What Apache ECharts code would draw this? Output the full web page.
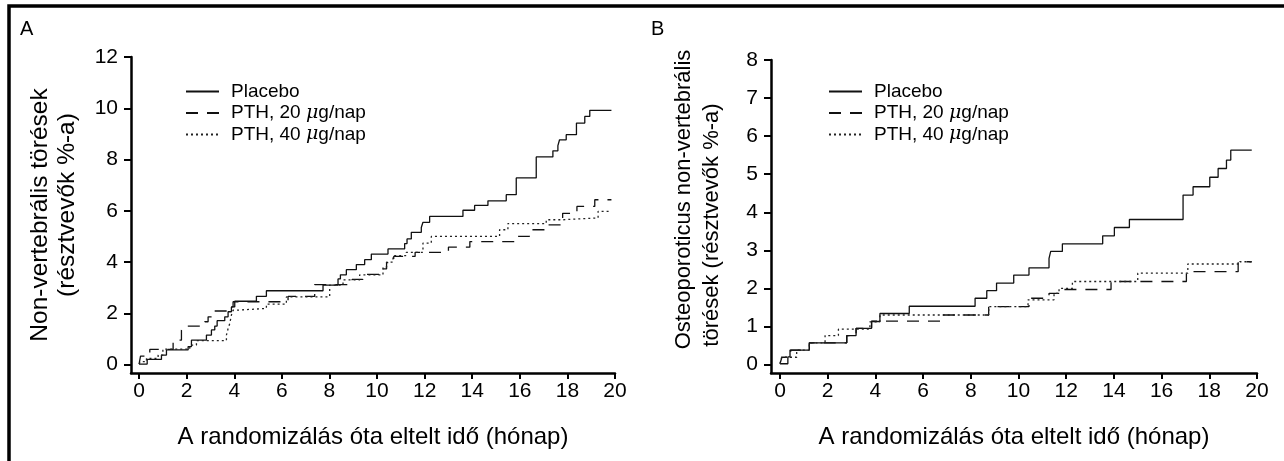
<!DOCTYPE html>
<html><head><meta charset="utf-8">
<script src="https://cdn.jsdelivr.net/npm/echarts@6/dist/echarts.min.js"></script>
<style>html,body{margin:0;padding:0;background:#fff}#c{width:1284px;height:461px}</style>
</head><body><div id="c"></div>
<script>
const xTicks = [0, 2, 4, 6, 8, 10, 12, 14, 16, 18, 20];
const yTicksA = [0, 2, 4, 6, 8, 10, 12];
const yTicksB = [0, 1, 2, 3, 4, 5, 6, 7, 8];
const seriesNames = ['Placebo', 'PTH, 20 μg/nap', 'PTH, 40 μg/nap'];
const xTitle = 'A randomizálás óta eltelt idő (hónap)';

// Panel A: [month, cumulative %]
const placeboA = [[0,0.02],[0.34,0.2],[0.94,0.37],[1.15,0.57],[2.06,0.7],[2.2,0.95],[2.83,1.15],[3.04,1.35],[3.18,1.5],[3.28,1.71],[3.6,1.86],[3.74,2.06],[3.88,2.25],[4.02,2.47],[4.93,2.66],[5.35,2.88],[7.73,3.1],[8.36,3.34],[8.46,3.5],[8.71,3.7],[9.13,3.9],[9.48,4.09],[9.76,4.31],[10.46,4.51],[11.16,4.72],[11.26,4.9],[11.44,5.16],[11.86,5.35],[11.93,5.55],[12.21,5.78],[13.61,6.02],[14.1,6.21],[14.66,6.39],[15.43,6.63],[15.85,7.28],[16.69,8.1],[17.39,8.34],[17.6,8.54],[17.67,8.77],[17.95,8.97],[18.38,9.42],[18.73,9.68],[18.94,9.92],[19.85,9.92]];
const pth20A = [[0,0.02],[0.06,0.33],[0.45,0.59],[1.43,0.95],[1.78,1.34],[1.85,1.5],[2.76,1.67],[2.9,1.86],[3.11,2.09],[3.81,2.25],[3.95,2.45],[6.26,2.66],[7.38,3.12],[8.95,3.32],[9.4,3.52],[10.1,3.73],[10.4,3.98],[10.7,4.22],[11.6,4.38],[13.0,4.58],[13.9,4.8],[15.9,5.0],[16.4,5.26],[17.2,5.45],[17.8,5.9],[18.4,6.17],[19.15,6.43],[19.85,6.43]];
const pth40A = [[0,0.02],[0.06,0.11],[0.31,0.24],[0.8,0.37],[1.0,0.6],[2.13,0.76],[2.41,0.93],[3.67,1.15],[3.74,1.4],[3.81,1.6],[3.88,1.93],[3.95,2.12],[4.09,2.19],[5.35,2.36],[6.19,2.64],[8.01,3.1],[8.57,3.3],[9.27,3.5],[10.25,3.8],[10.4,4.0],[10.67,4.25],[11.23,4.38],[11.93,4.74],[12.28,5.0],[15.15,5.26],[15.5,5.5],[17.11,5.65],[17.82,5.72],[19.29,5.98],[19.85,5.98]];

// Panel B
const placeboB = [[0,0.02],[0.33,0.2],[0.42,0.38],[1.23,0.57],[2.8,0.76],[3.19,0.95],[3.84,1.13],[4.19,1.34],[5.42,1.53],[8.18,1.74],[8.67,1.94],[9.08,2.14],[9.8,2.35],[10.44,2.54],[11.28,2.79],[11.35,2.97],[11.84,3.17],[13.53,3.38],[14.02,3.6],[14.65,3.81],[16.9,4.45],[17.32,4.67],[18.02,4.92],[18.37,5.15],[18.72,5.37],[18.9,5.63],[19.78,5.63]];
const pth20B = [[0,0.02],[0.08,0.19],[0.45,0.38],[1.23,0.57],[2.8,0.76],[3.19,0.95],[3.84,1.14],[6.78,1.3],[8.75,1.52],[10.44,1.74],[11.28,1.87],[11.77,1.97],[13.88,2.18],[17.04,2.44],[19.21,2.7],[19.78,2.7]];
const pth40B = [[0,0.02],[0.07,0.19],[0.7,0.38],[1.23,0.57],[1.89,0.76],[2.45,0.93],[3.77,1.12],[4.19,1.3],[8.75,1.52],[10.4,1.7],[11.49,1.87],[11.7,2.0],[12.26,2.18],[15.0,2.4],[17.1,2.64],[19.28,2.7],[19.78,2.7]];

const FONT = "'Liberation Sans', Arial, Helvetica, sans-serif";
const SERIF = "'DejaVu Serif', 'Liberation Serif', serif";
const INK = '#000';

function xAxis(gridIndex, min) {
  return {
    type: 'value', gridIndex: gridIndex, min: min, max: 20,
    axisLine: { show: true, onZero: false, lineStyle: { color: INK, width: 2.5 } },
    axisTick: { show: true, customValues: xTicks, length: 6, lineStyle: { color: INK, width: 2 } },
    axisLabel: { customValues: xTicks, margin: 8, fontSize: 21, color: INK, fontFamily: FONT },
    splitLine: { show: false },
    name: xTitle, nameLocation: 'middle', nameGap: 52,
    nameTextStyle: { fontSize: 24, color: INK, fontFamily: FONT }
  };
}
function yAxis(gridIndex, min, max, ticks, name, gap, rich) {
  return {
    type: 'value', gridIndex: gridIndex, min: min, max: max,
    axisLine: { show: true, onZero: false, lineStyle: { color: INK, width: 2.5 } },
    axisTick: { show: true, customValues: ticks, length: 7, lineStyle: { color: INK, width: 2 } },
    axisLabel: { customValues: ticks, margin: 13, fontSize: 21, color: INK, fontFamily: FONT },
    splitLine: { show: false },
    name: name, nameLocation: 'middle', nameGap: gap,
    nameTextStyle: { color: INK, fontFamily: FONT, rich: rich }
  };
}
function legend(left) {
  return {
    orient: 'vertical', left: left, top: 77, itemWidth: 33, itemHeight: 14, itemGap: 2.5,
    selectedMode: false, data: seriesNames,
    itemStyle: { opacity: 0, color: 'rgba(0,0,0,0)', borderWidth: 0 },
    formatter: function (n) { return n.replace('μ', '{i|μ}'); },
    textStyle: {
      fontSize: 19, lineHeight: 19, color: INK, fontFamily: FONT, padding: [0, 0, 0, 7],
      rich: { i: { fontStyle: 'italic', fontFamily: SERIF, fontSize: 19, lineHeight: 19, color: INK } }
    }
  };
}
const styles = [
  { color: '#111', width: 1.3, type: 'solid' },
  { color: '#111', width: 1.3, type: [12, 9] },
  { color: '#222', width: 1.3, type: [2, 3] }
];
function line(name, data, idx, k) {
  return {
    type: 'line', name: name, data: data, xAxisIndex: idx, yAxisIndex: idx,
    step: 'end', symbol: 'none', showSymbol: false, silent: true,
    itemStyle: { color: styles[k].color },
    lineStyle: styles[k]
  };
}

const chart = echarts.init(document.getElementById('c'));
chart.setOption({
  animation: false,
  backgroundColor: '#fff',
  grid: [
    { left: 131, top: 57, width: 484, height: 316 },
    { left: 771, top: 60, width: 486, height: 313 }
  ],
  xAxis: [xAxis(0, -0.34), xAxis(1, -0.377)],
  yAxis: [
    yAxis(0, -0.33, 12, yTicksA, '{a|Non-vertebrális törések}\n{b|(résztvevők %-a)}', 50, {
      a: { fontSize: 24.5, lineHeight: 27, fontFamily: FONT, color: INK },
      b: { fontSize: 24.5, lineHeight: 27, fontFamily: FONT, color: INK, padding: [0, 0, 0, 20] }
    }),
    yAxis(1, -0.2233, 8, yTicksB, '{a|Osteoporoticus non-vertebrális}\n{b|törések (résztvevők %-a)}', 45, {
      a: { fontSize: 22, lineHeight: 28, fontFamily: FONT, color: INK, padding: [0, 0, 0, 34] },
      b: { fontSize: 22, lineHeight: 28, fontFamily: FONT, color: INK, padding: [0, 17, 0, 0] }
    })
  ],
  legend: [legend(180), legend(823)],
  series: [
    line(seriesNames[0], placeboA, 0, 0),
    line(seriesNames[1], pth20A, 0, 1),
    line(seriesNames[2], pth40A, 0, 2),
    line(seriesNames[0], placeboB, 1, 0),
    line(seriesNames[1], pth20B, 1, 1),
    line(seriesNames[2], pth40B, 1, 2)
  ],
  graphic: [
    { type: 'rect', silent: true, z: -1, shape: { x: 9, y: 6, width: 1400, height: 600 },
      style: { fill: 'none', stroke: INK, lineWidth: 3.5 } },
    { type: 'text', left: 20, top: 19, silent: true,
      style: { text: 'A', fill: INK, font: '20px ' + FONT } },
    { type: 'text', left: 651, top: 19, silent: true,
      style: { text: 'B', fill: INK, font: '20px ' + FONT } }
  ]
});
</script>
</body></html>
